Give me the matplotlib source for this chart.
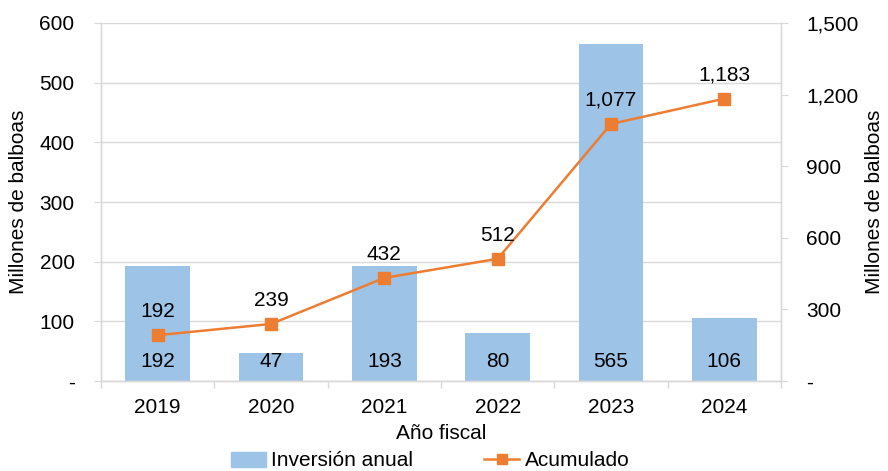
import matplotlib.pyplot as plt
from matplotlib.ticker import FuncFormatter, FixedLocator
from matplotlib.lines import Line2D
from matplotlib.patches import Patch

plt.rcParams['font.family'] = ['Liberation Sans', 'DejaVu Sans']

years = ["2019", "2020", "2021", "2022", "2023", "2024"]
anual = [192, 47, 193, 80, 565, 106]
acumulado = [192, 239, 432, 512, 1077, 1183]

BAR = "#9DC3E6"
LINE = "#ED7D31"
GRID = "#D9D9D9"
FS = 15

fig = plt.figure(figsize=(8.88, 4.71), dpi=100)
ax = fig.add_axes([101 / 888, 1 - 381 / 471, 680 / 888, 358 / 471])
ax2 = ax.twinx()

x = list(range(len(years)))
ax.bar(x, anual, width=0.57, color=BAR, zorder=2)
ax.set_xlim(-0.5, len(years) - 0.5)
ax.set_ylim(0, 600)
ax.set_yticks(range(0, 601, 100))
ax.yaxis.set_major_formatter(FuncFormatter(lambda v, p: "-" if v == 0 else f"{v:,.0f}"))
ax.grid(axis="y", color=GRID, linewidth=1, zorder=0)
ax.set_axisbelow(True)

# bar value labels near the bottom of each bar
for xi, v in zip(x, anual):
    ax.text(xi, 32, f"{v:,}", ha="center", va="center", fontsize=FS, color="black", zorder=4)

ax2.plot(x, acumulado, color=LINE, linewidth=1.8, marker="s", markersize=8, zorder=3)
ax2.set_ylim(0, 1500)
ax2.set_yticks(range(0, 1501, 300))
ax2.yaxis.set_major_formatter(FuncFormatter(lambda v, p: "-" if v == 0 else f"{v:,.0f}"))
for xi, v in zip(x, acumulado):
    ax2.annotate(f"{v:,}", (xi, v), xytext=(0, 17), textcoords="offset points",
                 ha="center", va="center", fontsize=FS, color="black")

ax.set_xticks(x)
ax.set_xticklabels(years, fontsize=FS)
ax.xaxis.set_minor_locator(FixedLocator([i - 0.5 for i in range(len(years) + 1)]))
ax.tick_params(axis="x", which="major", length=0, pad=12)
ax.tick_params(axis="x", which="minor", length=5, color=GRID, width=1)
ax.tick_params(axis="y", length=5, color=GRID, labelsize=FS, pad=14)
ax2.tick_params(axis="y", length=5, color=GRID, labelsize=FS, pad=13)

for a in (ax, ax2):
    a.spines["top"].set_visible(False)
    for s in ("left", "right", "bottom"):
        a.spines[s].set_color(GRID)
        a.spines[s].set_linewidth(1)

ax.set_xlabel("Año fiscal", fontsize=FS)
ax.xaxis.set_label_coords(0.5, -(424 - 381) / 358)
ax.set_ylabel("Millones de balboas", fontsize=FS)
ax.yaxis.set_label_coords((28 - 101) / 680, 0.5)
ax2.set_ylabel("Millones de balboas", fontsize=FS)
ax2.yaxis.set_label_coords((865 - 101) / 680, 0.5)

handles = [Patch(facecolor=BAR, edgecolor=BAR),
           Line2D([0], [0], color=LINE, marker="s", markersize=7, linewidth=1.8)]
fig.legend(handles, ["Inversión anual", "Acumulado"], loc="center",
           bbox_to_anchor=(430 / 888, 1 - 461 / 471), ncol=2, frameon=False,
           fontsize=FS, handlelength=1.7, columnspacing=3.4, handletextpad=0.25)

fig.savefig("out.png", dpi=100)
